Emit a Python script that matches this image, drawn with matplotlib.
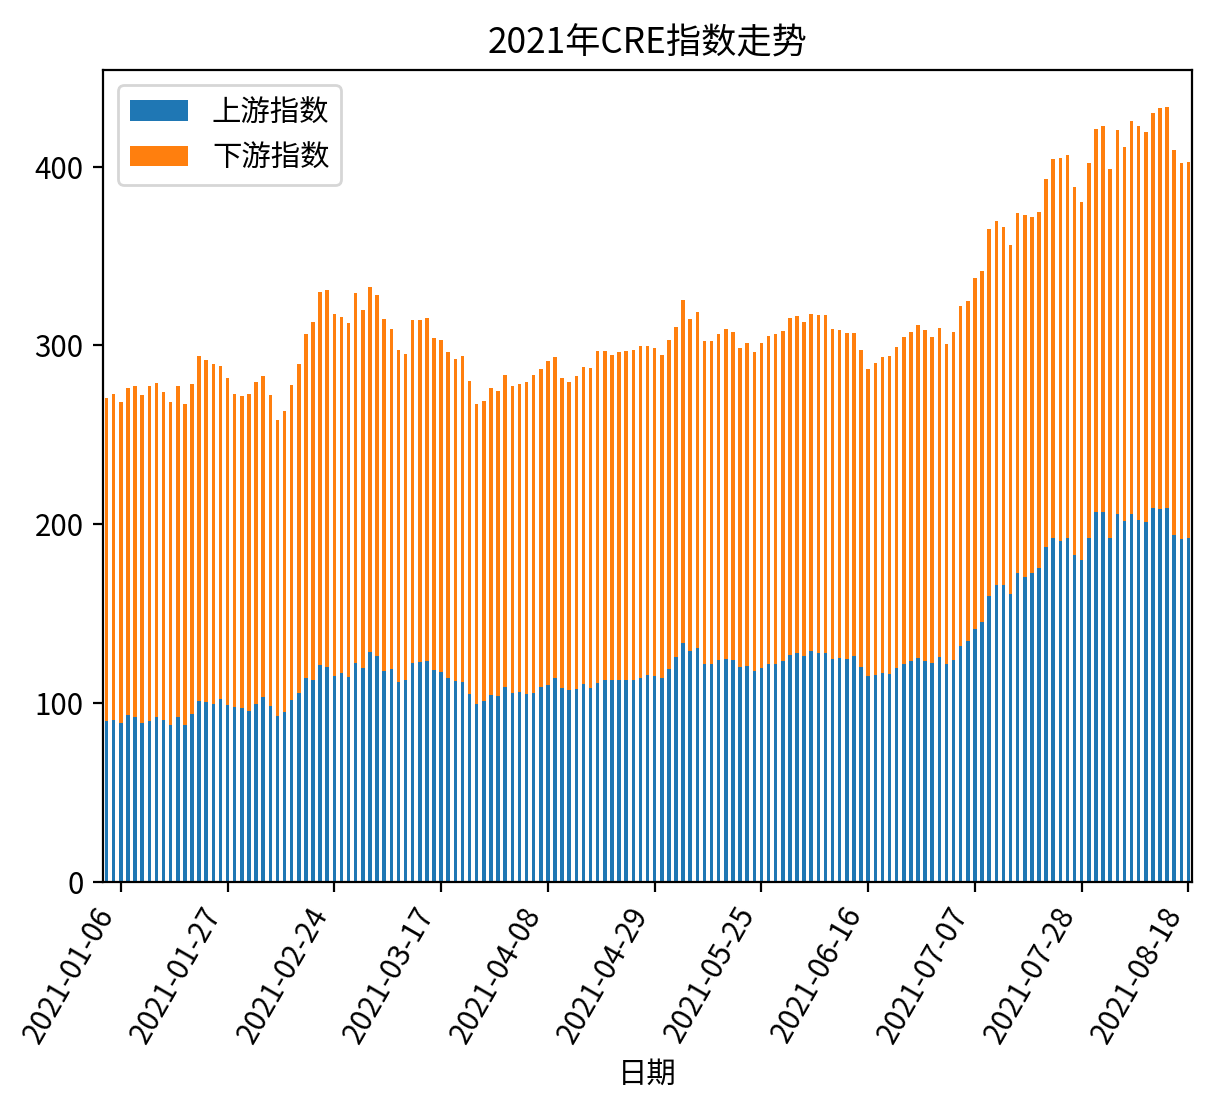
import numpy as np
import pandas as pd
import matplotlib
matplotlib.use("Agg")
import matplotlib.pyplot as plt

plt.rcParams['font.family'] = ['Noto Sans CJK SC', 'DejaVu Sans']
plt.rcParams['axes.unicode_minus'] = False
plt.rcParams['font.size'] = 10.6

# trading days (China A-share calendar) from 2021-01-04 to 2021-08-18
start_date = "2021-01-04"
end_date = "2021-08-18"
holidays = ["2021-02-11", "2021-02-12", "2021-02-15", "2021-02-16", "2021-02-17",
            "2021-04-05", "2021-05-03", "2021-05-04", "2021-05-05", "2021-06-14"]

# 上游指数 (blue)
upstream = [
    90.1, 90.4, 89.1, 93.4, 92.1, 89.1, 90.2, 92.3, 90.8, 87.7,
    92.3, 88.0, 93.8, 101.3, 100.9, 99.6, 102.4, 98.9, 97.7, 97.3,
    95.7, 99.4, 103.5, 98.3, 92.9, 95.3, 101.8, 105.6, 114.1, 113.2,
    121.4, 120.4, 115.1, 116.8, 114.7, 122.7, 119.7, 128.7, 126.6, 118.2,
    119.1, 112.1, 113.2, 122.5, 122.9, 123.3, 118.8, 117.7, 114.1, 112.4,
    111.8, 105.0, 99.6, 101.4, 104.4, 104.2, 108.9, 105.9, 106.5, 105.4,
    105.9, 109.1, 110.2, 113.8, 108.7, 107.2, 108.1, 110.6, 108.7, 111.5,
    113.0, 113.0, 112.8, 113.2, 113.2, 114.2, 116.0, 115.2, 114.1, 119.2,
    125.9, 133.5, 129.2, 131.1, 122.0, 122.0, 124.2, 124.9, 124.2, 120.1,
    121.0, 118.0, 119.9, 122.0, 122.0, 123.5, 127.0, 128.1, 126.6, 129.2,
    128.2, 128.1, 124.8, 125.3, 124.8, 126.1, 120.4, 115.1, 115.8, 116.9,
    116.5, 119.9, 122.0, 123.3, 125.3, 123.6, 122.5, 125.7, 121.8, 124.4,
    132.2, 134.8, 141.5, 145.5, 160.0, 166.2, 165.9, 161.3, 172.7, 170.6,
    172.5, 175.7, 187.4, 192.4, 190.4, 192.4, 182.9, 179.8, 192.6, 207.0,
    207.0, 192.4, 205.5, 201.8, 205.7, 202.5, 201.4, 209.0, 208.8, 209.2,
    194.1, 191.9, 192.4,
]

# 下游指数 (orange, stacked on top)
downstream = [
    180.7, 182.6, 179.4, 183.0, 185.2, 183.3, 186.9, 186.7, 183.1, 180.8,
    185.0, 179.4, 184.6, 193.0, 191.1, 190.0, 186.3, 183.1, 175.3, 174.2,
    177.1, 179.9, 179.6, 174.1, 165.4, 168.2, 176.2, 184.2, 192.5, 200.1,
    208.5, 210.4, 202.7, 199.3, 197.6, 206.6, 200.3, 204.0, 201.8, 196.4,
    189.9, 185.3, 182.2, 191.5, 191.5, 191.8, 185.5, 185.3, 182.0, 179.8,
    182.5, 174.9, 167.9, 167.6, 171.8, 170.5, 174.7, 171.4, 172.1, 174.1,
    177.6, 177.9, 180.9, 179.7, 173.3, 172.3, 175.0, 177.5, 178.5, 185.3,
    184.1, 181.8, 183.5, 183.9, 184.2, 185.5, 183.9, 183.5, 180.3, 183.8,
    184.6, 191.9, 185.8, 187.6, 180.7, 180.5, 182.0, 184.3, 183.5, 178.6,
    180.5, 178.3, 181.6, 183.1, 184.4, 184.8, 188.3, 188.5, 186.5, 188.6,
    189.0, 188.7, 184.6, 183.3, 182.3, 181.0, 177.0, 171.9, 174.4, 176.6,
    177.8, 179.4, 182.9, 184.4, 186.3, 184.8, 182.2, 184.2, 179.0, 182.9,
    190.0, 190.2, 196.4, 196.1, 205.1, 203.6, 200.5, 195.1, 201.3, 202.5,
    199.1, 199.1, 205.9, 212.1, 214.3, 214.1, 205.9, 200.4, 209.4, 214.3,
    215.9, 206.5, 214.9, 209.0, 220.0, 220.4, 218.0, 221.2, 224.0, 224.0,
    215.2, 210.1, 210.2,
]

dates = pd.bdate_range(start_date, end_date)
dates = dates[~dates.isin(pd.to_datetime(holidays))]
date_labels = dates.strftime("%Y-%m-%d").tolist()

fig = plt.figure(figsize=(6.075, 5.55), dpi=200)
ax = fig.add_axes([0.0848, 0.2054, 0.8963, 0.7315])

x = np.arange(len(upstream))
ax.bar(x, upstream, width=0.5, color="#1f77b4", label="上游指数")
ax.bar(x, downstream, width=0.5, bottom=upstream, color="#ff7f0e", label="下游指数")

ax.set_xlim(-0.5, len(upstream) - 0.5)
ax.set_ylim(0, 454)
ax.set_yticks([0, 100, 200, 300, 400])

tick_pos = x[2::15]
ax.set_xticks(tick_pos)
ax.set_xticklabels([date_labels[i] for i in tick_pos], rotation=60, ha="right")

ax.set_xlabel("日期")
ax.set_title("2021年CRE指数走势", fontsize=12.7)
ax.legend(loc="upper left")

fig.savefig("out.png", dpi=200)
